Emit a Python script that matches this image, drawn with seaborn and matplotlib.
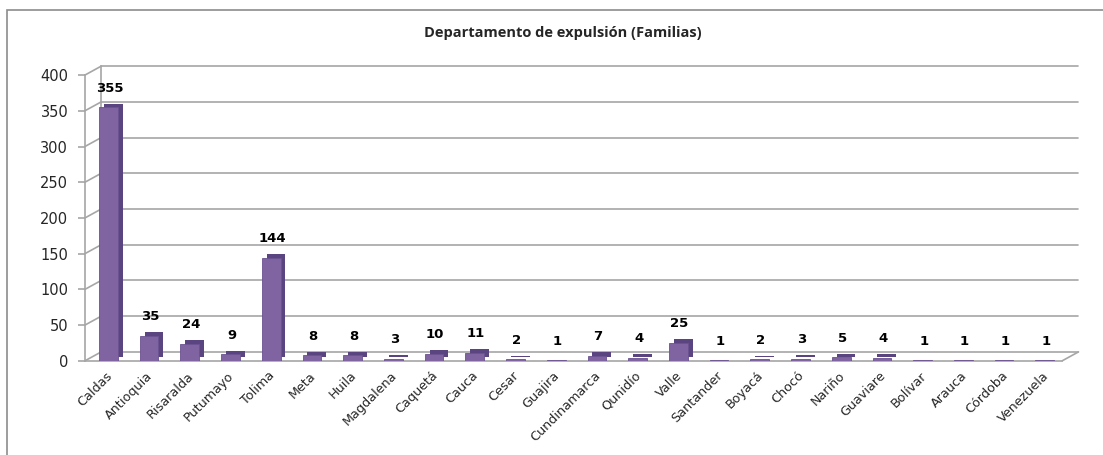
import numpy as np
import pandas as pd
import matplotlib
matplotlib.use('Agg')
import matplotlib.pyplot as plt
import matplotlib.transforms as mtransforms
import matplotlib.patheffects as pe
from matplotlib.patches import Rectangle
import seaborn as sns

# datos
departamentos = ['Caldas', 'Antioquia', 'Risaralda', 'Putumayo', 'Tolima', 'Meta',
                 'Huila', 'Magdalena', 'Caquetá', 'Cauca', 'Cesar', 'Guajira',
                 'Cundinamarca', 'Qunidío', 'Valle', 'Santander', 'Boyacá', 'Chocó',
                 'Nariño', 'Guaviare', 'Bolívar', 'Arauca', 'Córdoba', 'Venezuela']
familias = [355, 35, 24, 9, 144, 8, 8, 3, 10, 11, 2, 1, 7, 4, 25, 1, 2, 3, 5, 4,
            1, 1, 1, 1]
y_ticks = [0, 50, 100, 150, 200, 250, 300, 350, 400]
titulo = 'Departamento de expulsión (Familias)'

BAR_COLOR = '#8064a2'
SIDE_COLOR = '#5a4580'
GRID_COLOR = '#a6a6a6'

sns.set_style('white')
plt.rcParams['font.family'] = ['DejaVu Sans']

df = pd.DataFrame({'depto': departamentos, 'familias': familias})
n = len(departamentos)

fig = plt.figure(figsize=(11.03, 4.55), dpi=100)
ax = fig.add_axes([0.077, 0.207, 0.886, 0.628])

# barras: cara frontal + sombra desplazada que simula el lateral 3D
sns.barplot(data=df, x='depto', y='familias', order=departamentos,
            color=BAR_COLOR, width=0.46, saturation=1, ax=ax,
            edgecolor='#6b5290', linewidth=0.6)
shift = mtransforms.offset_copy(ax.transData, fig=fig, x=3, y=0, units='dots')
for p in ax.patches:
    p.set_zorder(3)
    p.set_transform(shift)
    p.set_path_effects([pe.SimplePatchShadow(offset=(3.5, 2.5),
                                             shadow_rgbFace=SIDE_COLOR, alpha=1),
                        pe.Normal()])

ax.set_ylim(0, y_ticks[-1])
ax.set_xlim(-0.5, n - 0.5)

# profundidad del efecto 3D (en pixeles)
DX, DY = 16, 9
back = mtransforms.offset_copy(ax.transData, fig=fig, x=DX, y=DY, units='dots')

# pared del fondo: lineas de grilla
for v in y_ticks:
    ax.plot([-0.5, n - 0.5], [v, v], color=GRID_COLOR, lw=1.2,
            transform=back, clip_on=False, zorder=0)
ax.plot([-0.5, -0.5], [0, y_ticks[-1]], color=GRID_COLOR, lw=1.2,
        transform=back, clip_on=False, zorder=0)

# diagonales de la pared izquierda y del piso
for v in y_ticks:
    ax.plot([-0.5, -0.5 + 0.4], [v, v + 12.5], color=GRID_COLOR, lw=1.2,
            clip_on=False, zorder=0)
ax.plot([n - 0.5, n - 0.5 + 0.4], [0, 12.5], color=GRID_COLOR, lw=1.2,
        clip_on=False, zorder=0)

# etiquetas de datos
for i, v in enumerate(familias):
    ax.annotate(str(v), (i, v), xytext=(3, 9), textcoords='offset points',
                ha='center', va='bottom', fontsize=9.5, fontweight='bold',
                color='black', annotation_clip=False)

ax.set_yticks(y_ticks)
ax.set_yticklabels([str(v) for v in y_ticks], fontsize=10.5)
ax.set_xticks(range(n))
ax.set_xticklabels(departamentos, rotation=45, ha='right', rotation_mode='anchor',
                   fontsize=9.2)
lbl_shift = mtransforms.ScaledTranslation(-10 / 100, 0, fig.dpi_scale_trans)
for t in ax.get_xticklabels():
    t.set_transform(t.get_transform() + lbl_shift)
ax.set_xticks(np.arange(-0.5, n, 1), minor=True)
ax.tick_params(axis='x', which='major', length=0, pad=6)
ax.tick_params(axis='x', which='minor', length=5, color=GRID_COLOR, width=1.2)
ax.tick_params(axis='y', length=5, color=GRID_COLOR, width=1.2, left=True, pad=7)
ax.set_xlabel('')
ax.set_ylabel('')
for s in ['top', 'right']:
    ax.spines[s].set_visible(False)
for s in ['left', 'bottom']:
    ax.spines[s].set_color(GRID_COLOR)
    ax.spines[s].set_linewidth(1.2)

fig.text(0.51, 0.927, titulo, ha='center', va='center', fontsize=10.5,
         fontweight='bold', family=['Open Sans', 'DejaVu Sans'])

# marco del grafico
fig.add_artist(Rectangle((7 / 1103, -0.1), 1.2, 0.1 + (455 - 10) / 455,
                         transform=fig.transFigure, fill=False,
                         edgecolor='#8c8c8c', lw=1.2))

fig.savefig('out.png', dpi=100)
